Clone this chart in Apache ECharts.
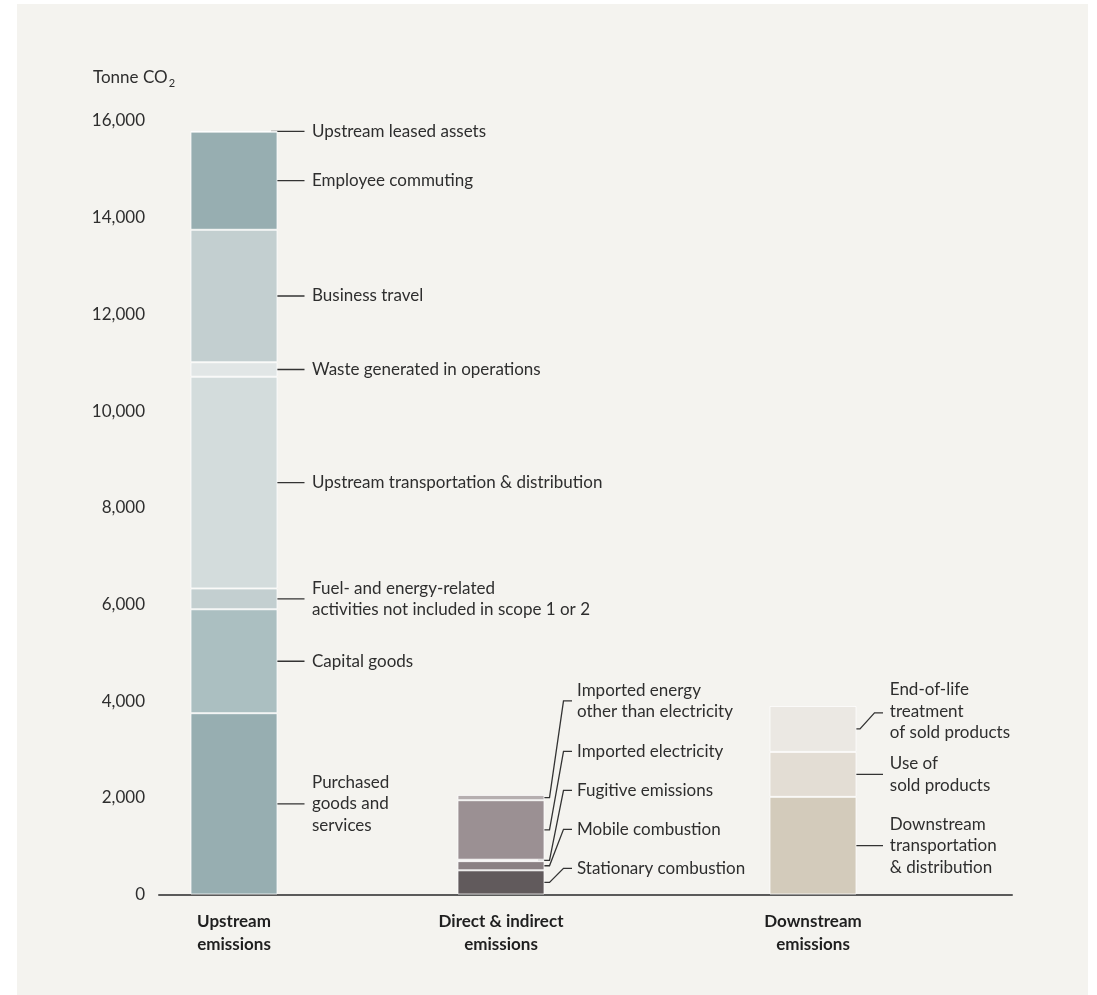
<!DOCTYPE html>
<html>
<head>
<meta charset="utf-8">
<script src="https://cdn.jsdelivr.net/npm/echarts@6/dist/echarts.min.js"></script>
<style>
  html, body { margin: 0; padding: 0; background: #ffffff; }
  #chart { width: 1097px; height: 995px; }
</style>
</head>
<body>
<div id="chart"></div>
<script>
// Scope 1-3 emissions, tonnes of CO2, stacked by source

const categories = ['Upstream\nemissions', 'Direct & indirect\nemissions', 'Downstream\nemissions'];

// Segments listed bottom to top
const upstreamNames = [
  'Purchased\ngoods and\nservices',
  'Capital goods',
  'Fuel- and energy-related\nactivities not included in scope 1 or 2',
  'Upstream transportation & distribution',
  'Waste generated in operations',
  'Business travel',
  'Employee commuting',
  'Upstream leased assets'
];
const upstreamValues = [3750, 2150, 430, 4380, 300, 2740, 2030, 10];

const directNames = [
  'Stationary combustion',
  'Mobile combustion',
  'Fugitive emissions',
  'Imported electricity',
  'Imported energy\nother than electricity'
];
const directValues = [500, 190, 30, 1230, 110];

const downstreamNames = [
  'Downstream\ntransportation\n& distribution',
  'Use of\nsold products',
  'End-of-life\ntreatment\nof sold products'
];
const downstreamValues = [2020, 930, 950];

const yAxisMin = 0;
const yAxisMax = 16000;
const yAxisStep = 2000;

// Fill colours per segment, bottom to top
const upstreamColors = ['#97aeb1', '#abbfc1', '#c3cfd0', '#d3dcdc', '#e1e6e6', '#c3cfd0', '#97aeb1', '#87a1a5'];
const directColors = ['#615a5c', '#8a8083', '#a39a9c', '#9b9093', '#b5aeaf'];
const downstreamColors = ['#d3cbbb', '#e3ddd4', '#ebe8e3'];

const groups = [
  { names: upstreamNames, values: upstreamValues, colors: upstreamColors },
  { names: directNames, values: directValues, colors: directColors },
  { names: downstreamNames, values: downstreamValues, colors: downstreamColors }
];

const FONT = 'Lato, "Noto Sans", sans-serif';
const TEXT = '#2e2e2e';
const LINE = '#333333';
const BAR_W = 87;
const GRID_TOP = 121;
const GRID_BOTTOM = 100.5;
const barCenters = [234, 501, 813];

const chart = echarts.init(document.getElementById('chart'), null, { renderer: 'canvas' });

const grids = [{ left: 159, right: 85, top: GRID_TOP, bottom: GRID_BOTTOM }];
const xAxes = [{
  gridIndex: 0, type: 'value', min: 0, max: 1,
  axisLine: { show: true, onZero: false, lineStyle: { color: '#5a5a5a', width: 2 } },
  axisTick: { show: false }, axisLabel: { show: false }, splitLine: { show: false }
}];
const yAxes = [{
  gridIndex: 0, type: 'value', min: yAxisMin, max: yAxisMax, interval: yAxisStep,
  axisLine: { show: false }, axisTick: { show: false }, splitLine: { show: false },
  axisLabel: {
    color: TEXT, fontFamily: FONT, fontSize: 17, margin: 14,
    formatter: v => v.toLocaleString('en-US')
  }
}];
const series = [];

groups.forEach((g, k) => {
  const idx = k + 1;
  grids.push({ left: barCenters[k] - 75, width: 150, top: GRID_TOP, bottom: GRID_BOTTOM });
  xAxes.push({
    gridIndex: idx, type: 'category', data: [categories[k]],
    axisLine: { show: false }, axisTick: { show: false },
    axisLabel: {
      color: '#1f1f1f', fontFamily: FONT, fontSize: 17, fontWeight: 'bold',
      lineHeight: 23, margin: 16, interval: 0
    }
  });
  yAxes.push({ gridIndex: idx, type: 'value', min: yAxisMin, max: yAxisMax, show: false });
  g.values.forEach((v, i) => {
    series.push({
      type: 'bar', name: g.names[i].replace(/\n/g, ' '),
      xAxisIndex: idx, yAxisIndex: idx, stack: 'group' + k,
      barWidth: BAR_W, data: [v], silent: true,
      itemStyle: { color: g.colors[i], borderColor: 'rgba(255,255,255,0.75)', borderWidth: 1 }
    });
  });
});

chart.setOption({
  backgroundColor: '#ffffff',
  animation: false,
  title: {
    text: 'Tonne CO{sub|2}', left: 88, top: 62,
    textStyle: {
      fontFamily: FONT, fontSize: 17, fontWeight: 'normal', color: TEXT,
      rich: { sub: { fontFamily: FONT, fontSize: 11, color: TEXT, padding: [11, 0, 0, 1] } }
    }
  },
  grid: grids, xAxis: xAxes, yAxis: yAxes, series: series
});

// Leader lines and segment labels, placed from the axes' own scales
function buildAnnotations() {
  const els = [{
    type: 'rect', z: -10, silent: true,
    shape: { x: 17, y: 4, width: 1071, height: 991 },
    style: { fill: '#f4f3ef' }
  }];
  const yPix = (k, v) => chart.convertToPixel({ yAxisIndex: k + 1 }, v);
  const xCenter = k => chart.convertToPixel({ xAxisIndex: k + 1 }, 0);
  const axisY = yPix(0, 0);

  const textEl = (str, x, y) => ({
    type: 'text', silent: true,
    style: { text: str, x: x, y: y, font: '17px ' + FONT, fill: TEXT, align: 'left', verticalAlign: 'middle', lineHeight: 21.5 }
  });
  const lineEl = pts => ({
    type: 'polyline', silent: true,
    shape: { points: pts },
    style: { stroke: LINE, lineWidth: 1.3, fill: null }
  });

  groups.forEach((g, k) => {
    const right = xCenter(k) + BAR_W / 2;
    let base = 0;
    g.values.forEach((v, i) => {
      const mid = yPix(k, base + v / 2);
      base += v;
      if (k === 0) {
        els.push(lineEl([[right - 6.5, mid], [right + 27, mid]]));
        els.push(textEl(g.names[i], right + 34.5, mid));
      } else if (k === 1) {
        // labels stacked upward at a fixed pitch
        let ly = axisY - 26.2 - 39 * i;
        if (i === g.values.length - 1) ly -= 11.5;
        els.push(lineEl([[right - 6.5, mid], [right + 5, mid], [right + 19, ly], [right + 27.5, ly]]));
        els.push(textEl(g.names[i], right + 32.5, ly));
      } else {
        const lift = i === g.values.length - 1 ? 16 : 0;
        if (lift) {
          els.push(lineEl([[right - 6.7, mid], [right + 3.5, mid], [right + 18, mid - lift], [right + 26.5, mid - lift]]));
        } else {
          els.push(lineEl([[right - 6.7, mid], [right + 26.5, mid]]));
        }
        els.push(textEl(g.names[i], right + 33.3, mid - lift - (lift ? 1.5 : 0)));
      }
    });
  });
  chart.setOption({ graphic: { elements: els } });
}
buildAnnotations();
</script>
</body>
</html>
